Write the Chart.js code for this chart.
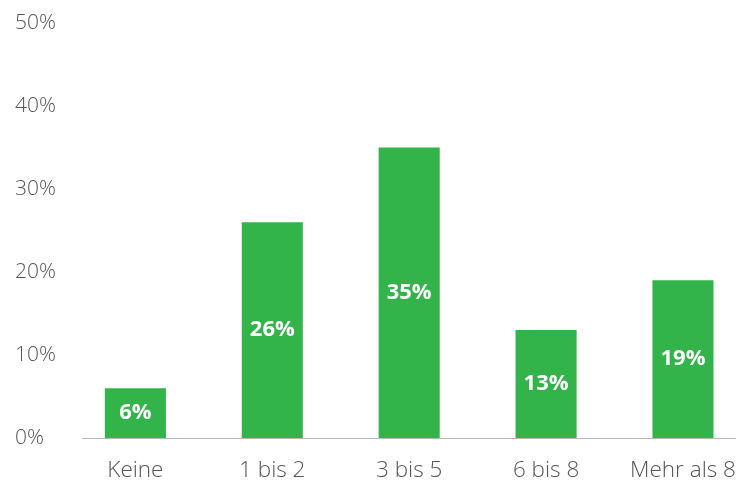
<!DOCTYPE html>
<html>
<head>
<meta charset="utf-8">
<script src="https://cdn.jsdelivr.net/npm/chart.js@4.4.1/dist/chart.umd.min.js"></script>
<style>
  html, body { margin: 0; padding: 0; background: #fff; overflow: hidden; }
  #wrap { width: 738px; height: 484px; }
</style>
</head>
<body>
<div id="wrap"><canvas id="chart"></canvas></div>
<script>
const categories = ['Keine', '1 bis 2', '3 bis 5', '6 bis 8', 'Mehr als 8'];
const shares = [6, 26, 35, 13, 19];
const yTicks = [0, 10, 20, 30, 40, 50];

// white value labels in the middle of each bar
const barLabels = {
  id: 'barLabels',
  afterDatasetsDraw(chart) {
    const ctx = chart.ctx;
    const meta = chart.getDatasetMeta(0);
    ctx.save();
    ctx.fillStyle = '#ffffff';
    ctx.font = 'bold 22px "Open Sans"';
    ctx.textAlign = 'center';
    ctx.textBaseline = 'middle';
    meta.data.forEach((bar, i) => {
      const mid = (bar.y + bar.base) / 2;
      ctx.fillText(shares[i] + '%', bar.x, mid);
    });
    ctx.restore();
  }
};

new Chart(document.getElementById('chart'), {
  type: 'bar',
  data: {
    datasets: [{
      data: shares.map((v, i) => ({ x: i, y: v })),
      backgroundColor: '#33b44a',
      borderWidth: 0,
      categoryPercentage: 1,
      barPercentage: 0.446
    }]
  },
  options: {
    responsive: true,
    maintainAspectRatio: false,
    animation: false,
    layout: { padding: { left: 15, right: 3, top: 23, bottom: 0 } },
    plugins: { legend: { display: false }, tooltip: { enabled: false } },
    scales: {
      x: {
        type: 'linear',
        bounds: 'data',
        offset: false,
        min: -0.39,
        max: 4.38,
        afterBuildTicks: (scale) => { scale.ticks = categories.map((c, i) => ({ value: i })); },
        afterFit: (scale) => { scale.height = 46; scale.paddingLeft = 0; scale.paddingRight = 0; },
        grid: { display: false, drawTicks: false },
        border: { color: '#b8b8b8', width: 1 },
        ticks: {
          callback: (v) => categories[v],
          color: '#555555',
          font: { family: 'Open Sans', size: 22.5, weight: 300 },
          padding: 19,
          maxRotation: 0,
          autoSkip: false
        }
      },
      y: {
        min: 0,
        max: 50,
        afterBuildTicks: (scale) => { scale.ticks = yTicks.map(v => ({ value: v })); },
        afterFit: (scale) => { scale.width = 67; },
        grid: { display: false, drawTicks: false },
        border: { display: false },
        ticks: {
          callback: (v) => v + '%',
          color: '#555555',
          font: { family: 'Open Sans', size: 21, weight: 300 },
          crossAlign: 'far',
          padding: 0
        }
      }
    }
  },
  plugins: [barLabels]
});
</script>
</body>
</html>
